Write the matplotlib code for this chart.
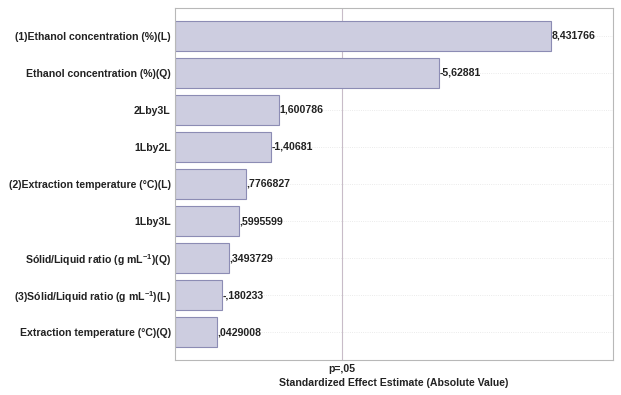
import matplotlib.pyplot as plt

plt.rcParams["font.family"] = ["Liberation Sans", "DejaVu Sans"]
plt.rcParams["mathtext.fontset"] = "custom"
plt.rcParams["mathtext.rm"] = "Liberation Sans:bold"
plt.rcParams["mathtext.bf"] = "Liberation Sans:bold"

factors = [
    "(1)Ethanol concentration (%)(L)",
    "Ethanol concentration (%)(Q)",
    "2Lby3L",
    "1Lby2L",
    "(2)Extraction temperature (°C)(L)",
    "1Lby3L",
    "Sólid/Liquid ratio (g mL$^{-1}$)(Q)",
    "(3)Sólid/Liquid ratio (g mL$^{-1}$)(L)",
    "Extraction temperature (°C)(Q)",
]
effects = [8.431766, -5.62881, 1.600786, -1.40681, 0.7766827,
           0.5995599, 0.3493729, -0.180233, 0.0429008]
p_crit = 3.182


def fmt(v):
    s = f"{v:.7g}"
    s = s.replace("-0.", "-.").replace("0.", ".", 1) if abs(v) < 1 else s
    return s.replace(".", ",")


fs = 7.6
fig = plt.figure(figsize=(6.21, 3.95), dpi=100)
ax = fig.add_axes([175 / 621, 35 / 395, 438 / 621, 352 / 395])

xmin, xmax = -1, 10
y = list(range(len(factors)))
widths = [abs(v) - xmin for v in effects]
ax.barh(y, widths, left=xmin, height=0.8, color="#cdcde0",
        edgecolor="#8c8cb4", linewidth=0.8, zorder=2)

for yi, v in zip(y, effects):
    ax.text(abs(v) + 0.02, yi, fmt(v), va="center", ha="left",
            fontsize=fs, fontweight="bold", color="#222222", zorder=3)

ax.axvline(p_crit, color="#c8bcc8", linewidth=0.8, zorder=1)

ax.set_xlim(xmin, xmax)
ax.set_ylim(len(factors) - 0.25, -0.75)
ax.set_yticks(y)
ax.set_yticklabels(factors, fontsize=fs, fontweight="bold", color="#222222")
ax.set_xticks([p_crit])
ax.set_xticklabels(["p=,05"], fontsize=fs, fontweight="bold", color="#222222")
ax.tick_params(axis="both", length=0, pad=3)
ax.set_xlabel("Standardized Effect Estimate (Absolute Value)", fontsize=fs,
              fontweight="bold", color="#222222", labelpad=3)

ax.grid(axis="y", color="#e4e4e4", linestyle=":", linewidth=0.6, zorder=0)
for s in ax.spines.values():
    s.set_color("#b8b8b8")
    s.set_linewidth(0.8)

fig.savefig("out.png", dpi=100)
